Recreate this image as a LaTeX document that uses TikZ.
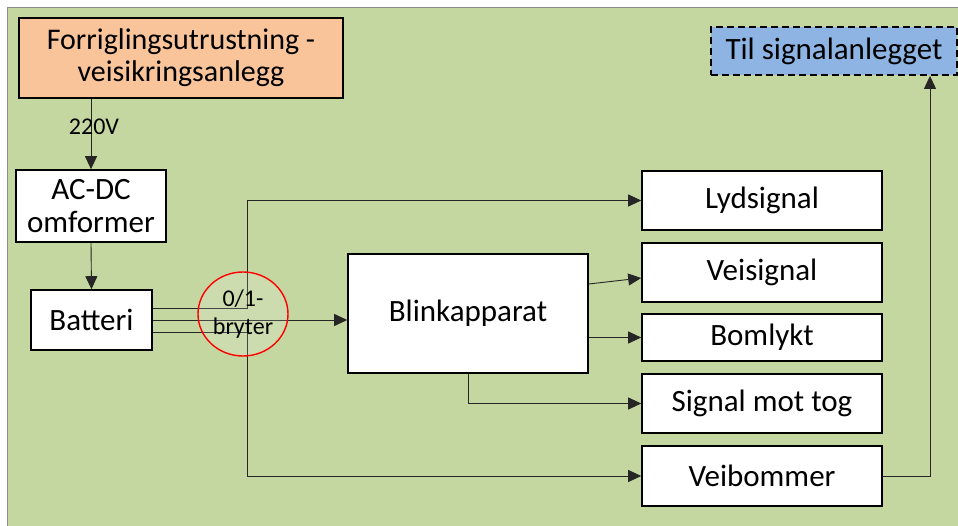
\documentclass[tikz,border=0pt]{standalone}
\usepackage{fontspec}
\setmainfont{Carlito}
\usetikzlibrary{arrows.meta,shapes.geometric}
\definecolor{bggreen}{HTML}{C4D7A0}
\definecolor{boxorange}{HTML}{F9C49A}
\definecolor{boxblue}{HTML}{8DB4E2}
\tikzset{
  x=1pt,y=-1pt,
  blockbox/.style={draw=black,line width=1.6pt,fill=white,rectangle,inner sep=0pt,
    minimum width=#1,font=\fontsize{31}{33}\selectfont,align=center},
  blockbox/.default=240pt,
  conn/.style={draw=black!85,line width=0.9pt},
  arr/.style={conn,-{Triangle[length=13pt,width=12pt]}},
  smalltext/.style={font=\fontsize{24}{28}\selectfont,inner sep=0pt,align=center},
}
\begin{document}
\begin{tikzpicture}
\useasboundingbox (0,0) rectangle (958,526);
\fill[white] (0,0) rectangle (958,526);
\draw[fill=bggreen,draw=black!45,line width=1pt] (7,8) rectangle (962,530);

% nodes
\node[blockbox=324pt,minimum height=80pt,fill=boxorange,font=\fontsize{30}{32}\selectfont] (fo) at (181,58) {Forriglingsutrustning -\\veisikringsanlegg};
\node[blockbox=150pt,minimum height=72pt] (ac) at (91,206) {AC-DC\\omformer};
\node[blockbox=121pt,minimum height=60pt] (bt) at (91.5,320) {Batteri};
\node[blockbox,minimum height=119pt] (bl) at (468,313.5) {Blinkapparat};
\node[blockbox,minimum height=59pt] (ly) at (762,200.5) {Lydsignal};
\node[blockbox,minimum height=59pt] (vs) at (762,272.5) {Veisignal};
\node[blockbox,minimum height=47pt] (bm) at (762,337.5) {Bomlykt};
\node[blockbox,minimum height=59pt] (sm) at (762,403.5) {Signal mot tog};
\node[blockbox,minimum height=60pt] (vb) at (762,476) {Veibommer};
\node[blockbox=246pt,minimum height=48pt,fill=boxblue,dash pattern=on 7pt off 4pt,line width=1.8pt] (til) at (834,51) {Til signalanlegget};

\coordinate (sw) at (247,0);
\coordinate (tx) at (930,0);

% power chain
\draw[arr] (ac.north |- fo.south) -- (ac.north);
\node[smalltext] (v220) at (94,127) {220V};
\draw[arr] (ac.south) -- (bt.north);

% battery outputs
\draw[conn] ([yshift=12pt]bt.east) -- ([yshift=12pt]bt.east -| sw) -- (ly.west -| sw);
\draw[arr] (ly.west -| sw) -- (ly.west);
\draw[arr] (bt.east) -- (bl.west |- bt.east);
\draw[conn] ([yshift=-12pt]bt.east) -- ([yshift=-12pt]bt.east -| sw) -- (vb.west -| sw);
\draw[arr] (vb.west -| sw) -- (vb.west);

% switch
\node[ellipse,draw=red,line width=1.4pt,fill=white,fill opacity=0.15,text opacity=1,
  minimum width=90pt,minimum height=84pt,inner sep=0pt,smalltext] (sw01) at (243,314) {0/1-\\bryter};

% blink outputs
\draw[arr] ([yshift=29.5pt]bl.east) -- ([yshift=-5.5pt]vs.west);
\draw[arr] (bm.west -| bl.east) -- (bm.west);
\draw[arr] (bl.south) |- (sm.west);

% to signal system
\draw[arr] (vb.east) -| (til.south -| tx);
\end{tikzpicture}
\end{document}
